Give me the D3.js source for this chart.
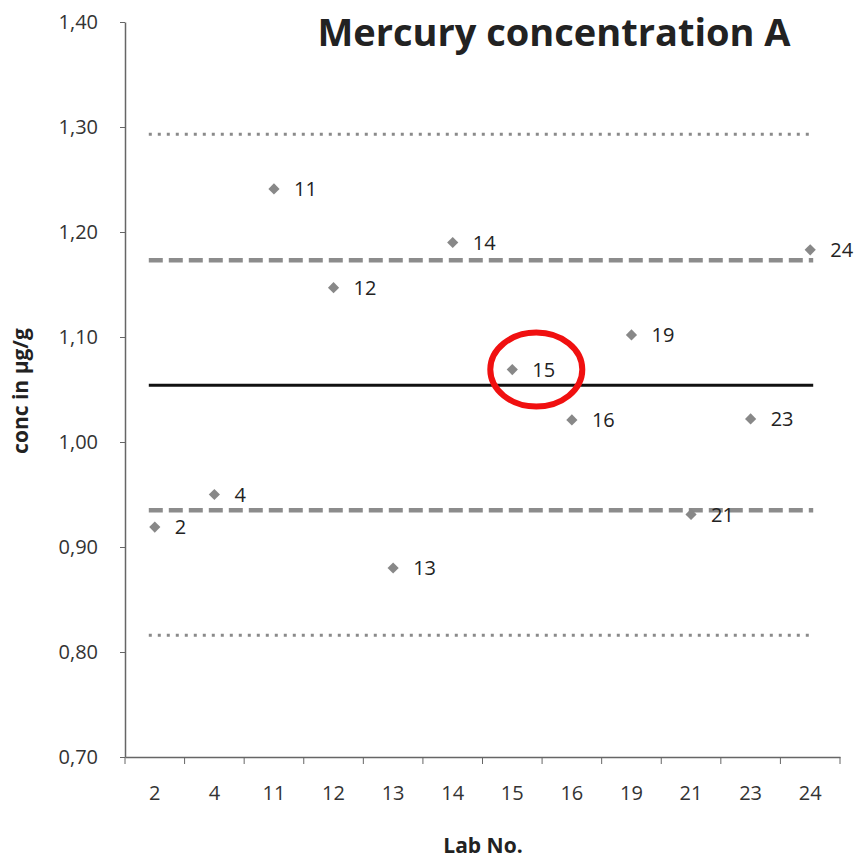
<!DOCTYPE html>
<html>
<head>
<meta charset="utf-8">
<script src="https://cdn.jsdelivr.net/npm/d3@7"></script>
<style>
  body { margin: 0; background: #fff; }
  text { font-family: "Open Sans", "Lato", sans-serif; }
</style>
</head>
<body>
<div id="maincontent"></div>
<script>
var labs = ["2", "4", "11", "12", "13", "14", "15", "16", "19", "21", "23", "24"];
var conc = [0.919, 0.950, 1.241, 1.147, 0.880, 1.190, 1.069, 1.021, 1.102, 0.931, 1.022, 1.183];
var yTicks = [0.70, 0.80, 0.90, 1.00, 1.10, 1.20, 1.30, 1.40];
var meanValue = 1.054;
var sigma1 = [0.935, 1.173];   // dashed lines
var sigma2 = [0.816, 1.293];   // dotted lines
var highlightLab = "15";

var width = 857, height = 860;
var margin = {top: 22, right: 17, bottom: 103, left: 125};

var svg = d3.select("#maincontent").append("svg")
    .attr("width", width)
    .attr("height", height);

var g = svg.append("g").attr("transform", "translate(" + margin.left + "," + margin.top + ")");
var w = width - margin.left - margin.right,
    h = height - margin.top - margin.bottom;

var x = d3.scaleBand().domain(labs).range([0, w]);
var y = d3.scaleLinear().domain([0.70, 1.40]).range([h, 0]);

var fmt = function (d) { return d3.format(".2f")(d).replace(".", ","); };

// y axis
var yAxis = g.append("g")
    .call(d3.axisLeft(y).tickValues(yTicks).tickFormat(fmt).tickSize(5).tickSizeOuter(0));
yAxis.select(".domain").attr("stroke", "#666").attr("stroke-width", 1.5);
yAxis.selectAll(".tick line").attr("stroke", "#666");
yAxis.selectAll("text")
    .attr("x", -27)
    .attr("font-size", 20)
    .attr("fill", "#333");

// x axis, ticks between categories
var xAxis = g.append("g")
    .attr("transform", "translate(0," + h + ")")
    .call(d3.axisBottom(x).tickSize(0).tickPadding(29));
xAxis.select(".domain").attr("stroke", "#666").attr("stroke-width", 1.5);
xAxis.selectAll("text").attr("font-size", 20).attr("fill", "#333");
var bounds = labs.map(function (d) { return x(d); }).concat([w]);
xAxis.selectAll(".sep")
    .data(bounds)
    .enter().append("line")
    .attr("class", "sep")
    .attr("x1", function (d) { return d; })
    .attr("x2", function (d) { return d; })
    .attr("y1", 0).attr("y2", 7)
    .attr("stroke", "#666");

// reference lines
var x0 = x(labs[0]) + x.bandwidth() / 2 - 6,
    x1 = x(labs[labs.length - 1]) + x.bandwidth() / 2 + 3;

var refLines = [
    {v: sigma2[0], color: "#8a8a8a", width: 3, dash: "3,6"},
    {v: sigma2[1], color: "#8a8a8a", width: 3, dash: "3,6"},
    {v: sigma1[0], color: "#8c8c8c", width: 4.5, dash: "14,6"},
    {v: sigma1[1], color: "#8c8c8c", width: 4.5, dash: "14,6"},
    {v: meanValue, color: "#111", width: 3, dash: null}
];

g.selectAll(".refline")
    .data(refLines)
    .enter().append("line")
    .attr("class", "refline")
    .attr("x1", x0).attr("x2", x1)
    .attr("y1", function (d) { return y(d.v); })
    .attr("y2", function (d) { return y(d.v); })
    .attr("stroke", function (d) { return d.color; })
    .attr("stroke-width", function (d) { return d.width; })
    .attr("stroke-dasharray", function (d) { return d.dash; });

// points
var pts = labs.map(function (d, i) { return {lab: d, v: conc[i]}; });

var pg = g.selectAll(".pt")
    .data(pts)
    .enter().append("g")
    .attr("class", "pt")
    .attr("transform", function (d) {
        return "translate(" + (x(d.lab) + x.bandwidth() / 2) + "," + y(d.v) + ")";
    });

pg.append("path")
    .attr("d", d3.symbol().type(d3.symbolDiamond2).size(80))
    .attr("fill", "#888");

pg.append("text")
    .attr("x", 20)
    .attr("dy", "0.36em")
    .attr("font-size", 20)
    .attr("fill", "#222")
    .text(function (d) { return d.lab; });

// red highlight ellipse
var hp = pts.filter(function (d) { return d.lab === highlightLab; })[0];
g.append("ellipse")
    .attr("cx", x(hp.lab) + x.bandwidth() / 2 + 24)
    .attr("cy", y(hp.v))
    .attr("rx", 46)
    .attr("ry", 37)
    .attr("fill", "none")
    .attr("stroke", "#f01010")
    .attr("stroke-width", 6);

// titles
svg.append("text")
    .attr("x", 554)
    .attr("y", 46)
    .attr("text-anchor", "middle")
    .attr("font-size", 38)
    .attr("font-weight", "bold")
    .attr("fill", "#222")
    .text("Mercury concentration A");

svg.append("text")
    .attr("transform", "translate(28," + 391 + ")rotate(-90)")
    .attr("text-anchor", "middle")
    .attr("font-size", 21)
    .attr("font-weight", "bold")
    .attr("fill", "#222")
    .text("conc in µg/g");

svg.append("text")
    .attr("x", 483)
    .attr("y", 853)
    .attr("text-anchor", "middle")
    .attr("font-size", 21)
    .attr("font-weight", "bold")
    .attr("fill", "#222")
    .text("Lab No.");
</script>
</body>
</html>
